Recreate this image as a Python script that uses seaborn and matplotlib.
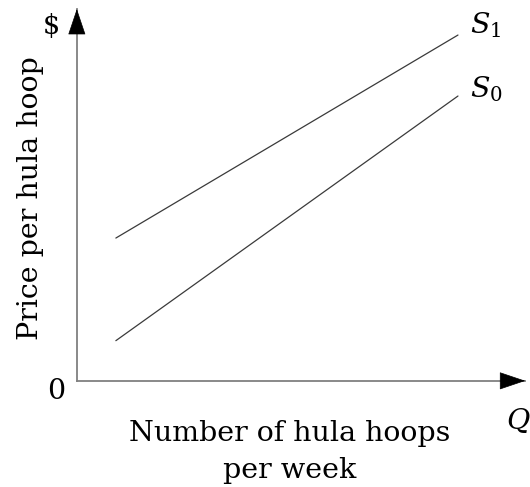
import matplotlib
matplotlib.use("Agg")
import matplotlib.pyplot as plt
import seaborn as sns
import pandas as pd

# supply curves, in chart units (quantity 0-10, price 0-10)
curve_names = ["S0", "S1"]
quantity = [0.87, 8.5]
price_s0 = [1.08, 7.66]
price_s1 = [3.84, 9.30]

df = pd.DataFrame({
    "quantity": quantity * 2,
    "price": price_s0 + price_s1,
    "curve": [curve_names[0]] * 2 + [curve_names[1]] * 2,
})

sns.set_theme(style="white")
plt.rcParams["font.family"] = ["DejaVu Serif"]
plt.rcParams["mathtext.fontset"] = "dejavuserif"
plt.rcParams["text.color"] = "black"

fig = plt.figure(figsize=(5.30, 4.87), dpi=100)
ax = fig.add_axes([0.145, 0.218, 0.846, 0.7635])

sns.lineplot(data=df, x="quantity", y="price", hue="curve",
             palette=["#3a3a3a", "#3a3a3a"], linewidth=0.9, legend=False, ax=ax)

ax.set_xlim(0, 10)
ax.set_ylim(0, 10)
ax.set_xticks([])
ax.set_yticks([])
ax.set_xlabel("")
ax.set_ylabel("")
for side in ["top", "right"]:
    ax.spines[side].set_visible(False)
for side in ["left", "bottom"]:
    ax.spines[side].set_color("#808080")
    ax.spines[side].set_linewidth(1.3)

# arrow heads on the axes
head = dict(arrowstyle="-|>,head_length=0.86,head_width=0.29", color="black",
            mutation_scale=20, lw=0.5, shrinkA=0, shrinkB=0)
ax.annotate("", xy=(0, 1), xytext=(0, 0.95), xycoords="axes fraction",
            arrowprops=head, annotation_clip=False)
ax.annotate("", xy=(1, 0), xytext=(0.96, 0), xycoords="axes fraction",
            arrowprops=head, annotation_clip=False)

fs = 20.5
ax.text(-0.056, 0.952, "$", fontsize=fs - 1, ha="center", va="center", transform=ax.transAxes)
ax.text(-0.045, -0.03, "0", fontsize=fs, ha="center", va="center", transform=ax.transAxes)
ax.text(0.877, 0.935, "$S_1$", fontsize=fs, ha="left", va="baseline", transform=ax.transAxes)
ax.text(0.877, 0.761, "$S_0$", fontsize=fs, ha="left", va="baseline", transform=ax.transAxes)
ax.text(0.957, -0.129, "$Q$", fontsize=fs, ha="left", va="baseline", transform=ax.transAxes)

ax.text(-0.103, 0.492, "Price per hula hoop", fontsize=fs, rotation=90,
        ha="center", va="center", transform=ax.transAxes)
ax.text(0.475, -0.106, "Number of hula hoops\nper week", fontsize=fs,
        ha="center", va="top", linespacing=1.45, transform=ax.transAxes)

fig.savefig("out.png", dpi=100)
